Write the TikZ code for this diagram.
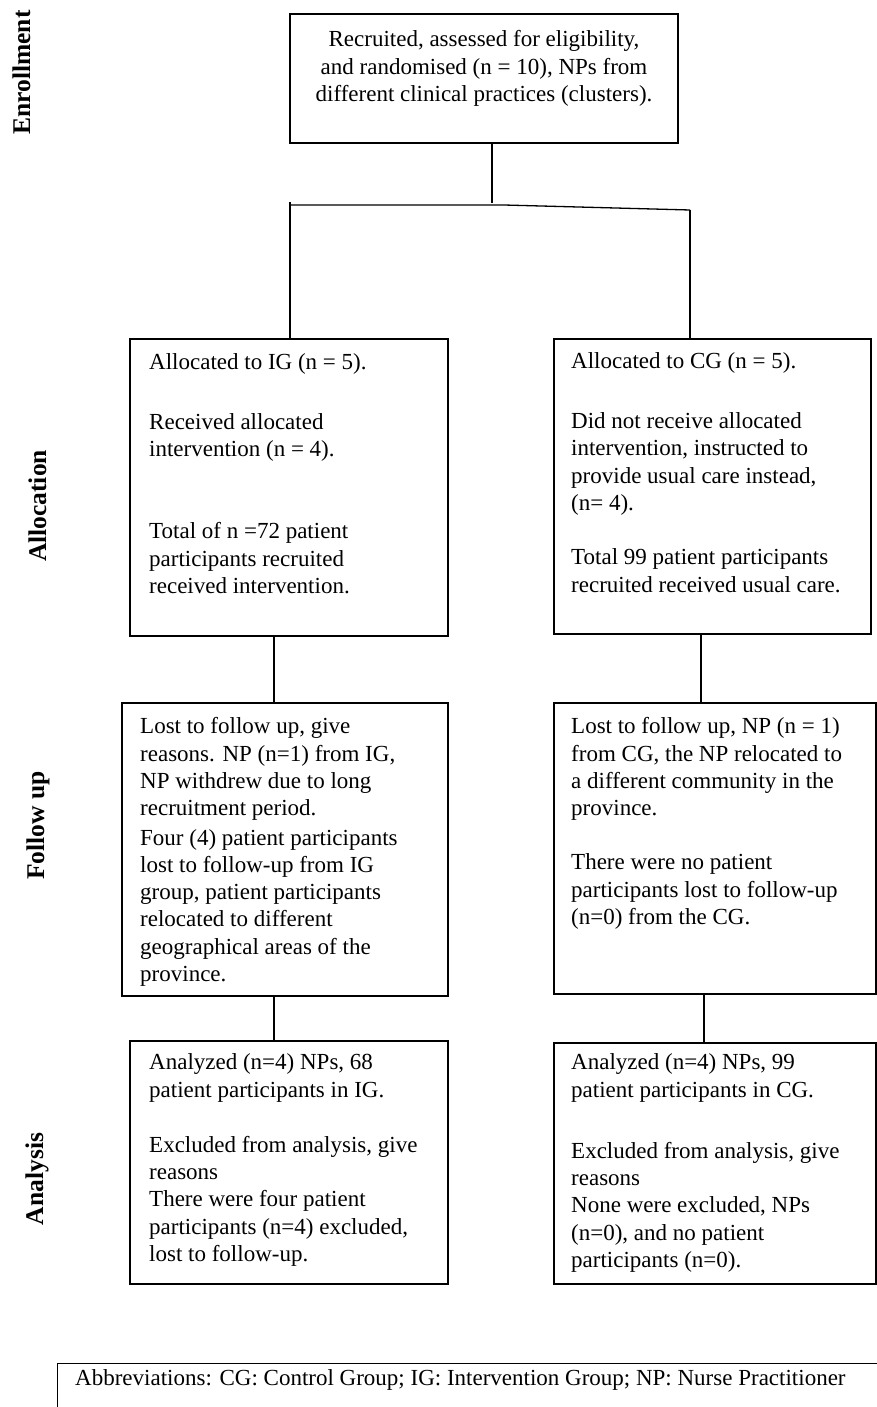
\documentclass[tikz,border=0pt]{standalone}
\usepackage{fontspec}
\setmainfont{Liberation Serif}
\newfontfamily\labfont{Liberation Serif Bold}
\begin{document}
\begin{tikzpicture}[x=1pt,y=-1pt,
  box/.style={draw, line width=1.3pt, inner sep=0pt},
  txt/.style={anchor=base west, align=left, inner sep=0pt, font=\fontsize{23}{27.3}\selectfont},
  side/.style={rotate=90, anchor=base, inner sep=0pt, font=\labfont\fontsize{25.5}{28}\selectfont},
  conn/.style={line width=1.3pt}]
\useasboundingbox (0,0) rectangle (877,1407);
\fill[white] (0,0) rectangle (877,1407);
\clip (0,0) rectangle (877,1407);

% boxes
\node[box, minimum width=388pt, minimum height=129pt] (enr) at (484,78.5) {};
\node[box, minimum width=318pt, minimum height=297pt] (aig) at (289,487.5) {};
\node[box, minimum width=317pt, minimum height=295pt] (acg) at (712.5,486.5) {};
\node[box, minimum width=326pt, minimum height=293pt] (fig) at (285,849.5) {};
\node[box, minimum width=322pt, minimum height=291pt] (fcg) at (715,848.5) {};
\node[box, minimum width=318pt, minimum height=243pt] (nig) at (289,1162.5) {};
\node[box, minimum width=322pt, minimum height=241pt] (ncg) at (715,1163.5) {};
\node[box, minimum width=860pt, minimum height=70pt, anchor=north west] (abb) at (57,1363) {};

% texts (anchor = baseline of last line)
\node[txt, anchor=base, align=center] (tenr) at (484,101.6) {Recruited, assessed for eligibility,\\ and randomised (n = 10), NPs from\\ different clinical practices (clusters).};
\node[txt] (taig) at (149,593.5) {Allocated to IG (n = 5).\\[32.7pt]
Received allocated\\
intervention (n = 4).\\[55pt]
Total of n =72 patient\\
participants recruited\\
received intervention.};
\node[txt] (tacg) at (571,592) {Allocated to CG (n = 5).\\[32.7pt]
Did not receive allocated\\
intervention, instructed to\\
provide usual care instead,\\
(n= 4).\\[27pt]
Total 99 patient participants\\
recruited received usual care.};
\node[txt] (tfig) at (140,981.5) {Lost to follow up, give\\
reasons. NP (n=1) from IG,\\
NP withdrew due to long\\
recruitment period.\\[2pt]
Four (4) patient participants\\
lost to follow-up from IG\\
group, patient participants\\
relocated to different\\
geographical areas of the\\
province.};
\node[txt] (tfcg) at (571,924.5) {Lost to follow up, NP (n = 1)\\
from CG, the NP relocated to\\
a different community in the\\
province.\\[27pt]
There were no patient\\
participants lost to follow-up\\
(n=0) from the CG.};
\node[txt] (tnig) at (149,1261.5) {Analyzed (n=4) NPs, 68\\
patient participants in IG.\\[28pt]
Excluded from analysis, give\\
reasons\\
There were four patient\\
participants (n=4) excluded,\\
lost to follow-up.};
\node[txt] (tncg) at (571,1267.5) {Analyzed (n=4) NPs, 99\\
patient participants in CG.\\[34pt]
Excluded from analysis, give\\
reasons\\
None were excluded, NPs\\
(n=0), and no patient\\
participants (n=0).};
\node[txt] (tabb) at (75,1385) {Abbreviations: CG: Control Group; IG: Intervention Group; NP: Nurse Practitioner};

% side labels
\node[side] (lenr) at (30,72.5) {Enrollment};
\node[side] (lall) at (46,506) {Allocation};
\node[side] (lfol) at (44,825.5) {Follow up};
\node[side] (lana) at (43,1179) {Analysis};

% connectors
\coordinate (j) at (492,203);
\coordinate (bl) at (290,205);
\coordinate (bt) at (290,202);
\coordinate (bm) at (504,205);
\coordinate (br) at (690,210);
\coordinate (c1) at (274,0);
\coordinate (c2) at (701,0);
\coordinate (c3) at (704,0);
\draw[conn] (enr.south -| j) -- (j);
\draw[conn] (bl) -- (bm) -- (br);
\draw[conn] (bt) -- (aig.north -| bt);
\draw[conn] (br) -- (acg.north -| br);
\draw[conn] (aig.south -| c1) -- (fig.north -| c1);
\draw[conn] (acg.south -| c2) -- (fcg.north -| c2);
\draw[conn] (fig.south -| c1) -- (nig.north -| c1);
\draw[conn] (fcg.south -| c3) -- (ncg.north -| c3);
\end{tikzpicture}
\end{document}
